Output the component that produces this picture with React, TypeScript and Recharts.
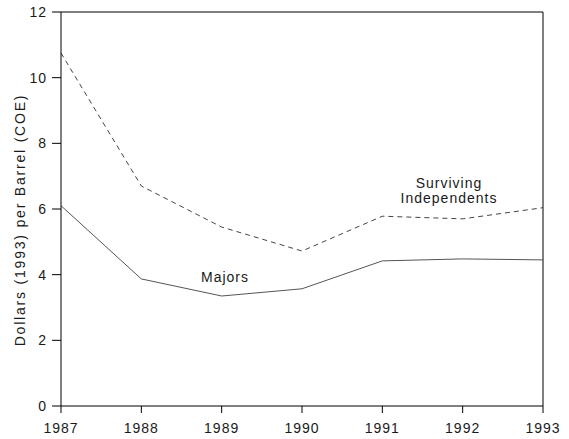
import { Line, LineChart, XAxis, YAxis, ReferenceLine } from "recharts";

const years = [1987, 1988, 1989, 1990, 1991, 1992, 1993];
const independents = [10.75, 6.7, 5.45, 4.72, 5.78, 5.7, 6.04];
const majors = [6.1, 3.87, 3.35, 3.57, 4.42, 4.48, 4.45];
const yTicks = [0, 2, 4, 6, 8, 10, 12];

const data = years.map((year, i) => ({
  year,
  independents: independents[i],
  majors: majors[i],
}));

const font = "'Liberation Sans', Arial, sans-serif";
const tickStyle = { fill: "#1a1a1a", fontSize: 14, fontFamily: font, letterSpacing: 1 };
const noteStyle = { fontSize: 14, fontFamily: font, fill: "#1a1a1a", letterSpacing: 1 };

export default function App() {
  return (
    <div style={{ position: "absolute", left: 0, top: 0, width: 569, height: 439, background: "#fff" }}>
      <LineChart width={569} height={439} data={data} margin={{ top: 12, right: 26, bottom: 0, left: 0 }}>
        <XAxis
          dataKey="year"
          type="number"
          domain={[1987, 1993]}
          ticks={years}
          stroke="#000"
          tickSize={7}
          tickMargin={10}
          tick={tickStyle}
          height={33}
        />
        <YAxis
          type="number"
          domain={[0, 12]}
          ticks={yTicks}
          stroke="#000"
          tickSize={9}
          tickMargin={5}
          tick={tickStyle}
          width={61}
        />
        <ReferenceLine y={12} stroke="#000" />
        <ReferenceLine x={1993} stroke="#000" />
        <Line
          dataKey="independents"
          stroke="#444"
          strokeWidth={1}
          strokeDasharray="5 4"
          dot={false}
          isAnimationActive={false}
        />
        <Line dataKey="majors" stroke="#555" strokeWidth={1} dot={false} isAnimationActive={false} />
        <text
          x={25}
          y={220}
          transform="rotate(-90 25 220)"
          textAnchor="middle"
          {...noteStyle}
          letterSpacing={1.8}
        >
          Dollars (1993) per Barrel (COE)
        </text>
        <text x={225} y={282} textAnchor="middle" {...noteStyle}>
          Majors
        </text>
        <text x={449} y={188} textAnchor="middle" {...noteStyle}>
          Surviving
        </text>
        <text x={449} y={203} textAnchor="middle" {...noteStyle}>
          Independents
        </text>
      </LineChart>
    </div>
  );
}
